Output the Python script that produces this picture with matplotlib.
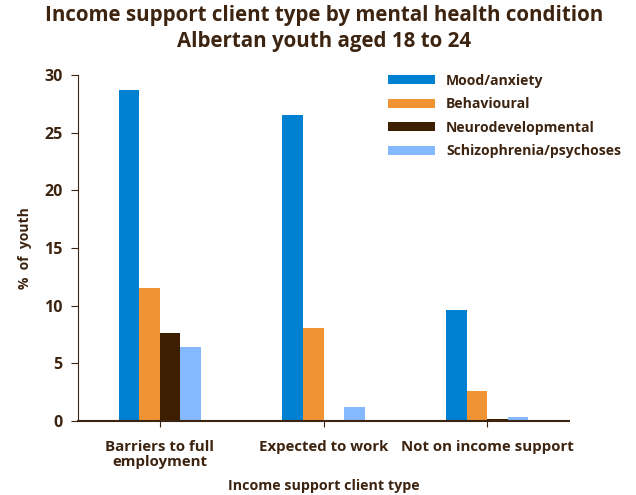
import numpy as np
import matplotlib.pyplot as plt

plt.rcParams['font.family'] = ['Open Sans', 'DejaVu Sans']
plt.rcParams['font.weight'] = 'bold'

# income support client types and % of youth per condition
client_types = ['Barriers to full\nemployment', 'Expected to work', 'Not on income support']
conditions = ['Mood/anxiety', 'Behavioural', 'Neurodevelopmental', 'Schizophrenia/psychoses']
mood = [28.7, 26.5, 9.6]
behavioural = [11.5, 8.1, 2.6]
neurodev = [7.6, 0.0, 0.2]
schizo = [6.4, 1.2, 0.35]

colors = ['#0080D0', '#F09433', '#3D1E00', '#85B9FF']
txt = '#3D2410'

fig = plt.figure(figsize=(6.36, 4.95), dpi=100)
ax = fig.add_axes([0.1226, 0.1495, 0.7721, 0.699])

x = np.arange(len(client_types))
w = 0.126
series = [mood, behavioural, neurodev, schizo]
for i, vals in enumerate(series):
    ax.bar(x + (i - 1.5) * w, vals, width=w, color=colors[i], label=conditions[i])

ax.set_xlim(-0.5, 2.5)
ax.set_ylim(0, 30)
ax.set_yticks(range(0, 31, 5))
ax.set_xticks(x)
ax.set_xticklabels(client_types, fontsize=10.8, color=txt, fontweight='bold', linespacing=1.05)
ax.tick_params(axis='y', labelsize=11.5, labelcolor=txt, color=txt, length=5, pad=6)
ax.tick_params(axis='x', color=txt, length=4, pad=10)
for lab in ax.get_yticklabels():
    lab.set_fontweight('bold')

ax.spines['top'].set_visible(False)
ax.spines['right'].set_visible(False)
ax.spines['left'].set_color(txt)
ax.spines['bottom'].set_color(txt)
ax.spines['bottom'].set_linewidth(1.5)

ax.set_ylabel('%  of  youth', fontsize=10, color=txt, fontweight='bold', labelpad=9)
ax.set_xlabel('Income support client type', fontsize=10.3, color=txt, fontweight='bold', labelpad=7)

fig.suptitle('Income support client type by mental health condition\nAlbertan youth aged 18 to 24',
             fontsize=14.8, fontweight='bold', color=txt, x=0.51, y=0.99, linespacing=1.3)

leg = ax.legend(loc='upper left', bbox_to_anchor=(0.605, 1.04), frameon=False,
                fontsize=10.1, handlelength=3.4, handleheight=0.6, labelspacing=0.68,
                handletextpad=0.75)
for t in leg.get_texts():
    t.set_color(txt)
    t.set_fontweight('bold')

fig.savefig('out.png', dpi=100)
